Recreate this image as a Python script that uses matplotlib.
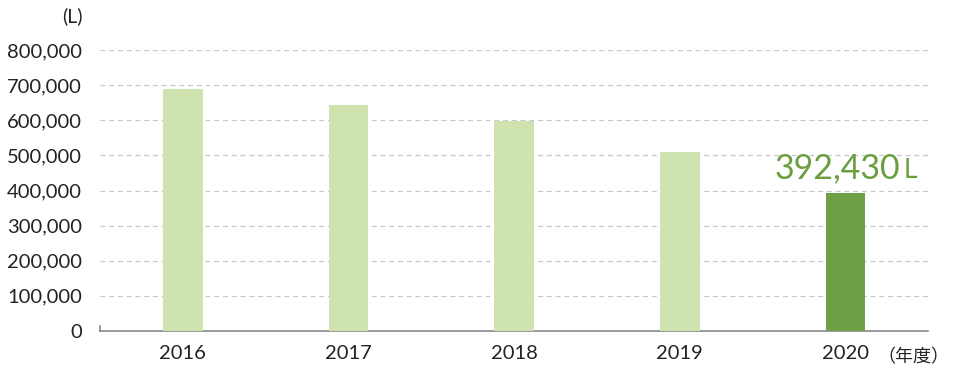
import matplotlib.pyplot as plt
from matplotlib.ticker import FuncFormatter

plt.rcParams['font.family'] = ['Lato', 'Noto Sans CJK JP', 'DejaVu Sans']

years = ['2016', '2017', '2018', '2019', '2020']
values = [689000, 643000, 598000, 510000, 392430]
colors = ['#cfe3b1', '#cfe3b1', '#cfe3b1', '#cfe3b1', '#70a046']

fig = plt.figure(figsize=(9.6, 3.71), dpi=100)
ax = fig.add_axes([0.104, 0.108, 0.863, 0.757])

x = range(len(years))
ax.bar(x, values, width=0.24, color=colors, zorder=3)

ax.set_xlim(-0.5, 4.5)
ax.set_ylim(0, 800000)
ax.set_yticks(range(0, 800001, 100000))
ax.yaxis.set_major_formatter(FuncFormatter(lambda v, p: f'{int(v):,}'))
ax.set_xticks(list(x))
ax.set_xticklabels(years)
ax.tick_params(axis='y', length=0, labelsize=14.5, pad=13, colors='#222222')
ax.tick_params(axis='x', length=0, labelsize=14.5, pad=10, colors='#222222')

# dashed grid
for v in range(100000, 800001, 100000):
    ax.axhline(v, color='#c8c8c8', linestyle=(0, (4, 3)), linewidth=0.9, zorder=1)

for s in ['top', 'right', 'left']:
    ax.spines[s].set_visible(False)
ax.spines['bottom'].set_color('#888888')
ax.spines['bottom'].set_linewidth(1.2)
ax.plot([-0.5, -0.5], [0, 15000], color='#888888', linewidth=1.2, clip_on=False, zorder=4)

ax.text(4.33, 462000, '392,430', color='#6a9e3f', fontsize=24.5,
        ha='right', va='center', zorder=5)
ax.text(4.35, 456000, 'L', color='#6a9e3f', fontsize=19, ha='left', va='center')

fig.text(0.075, 0.955, '(L)', fontsize=14, ha='center', va='center', color='#222222')
fig.text(0.952, 0.038, '（年度）', fontsize=13, ha='center', va='center', color='#222222')

fig.savefig('out.png', dpi=100)
